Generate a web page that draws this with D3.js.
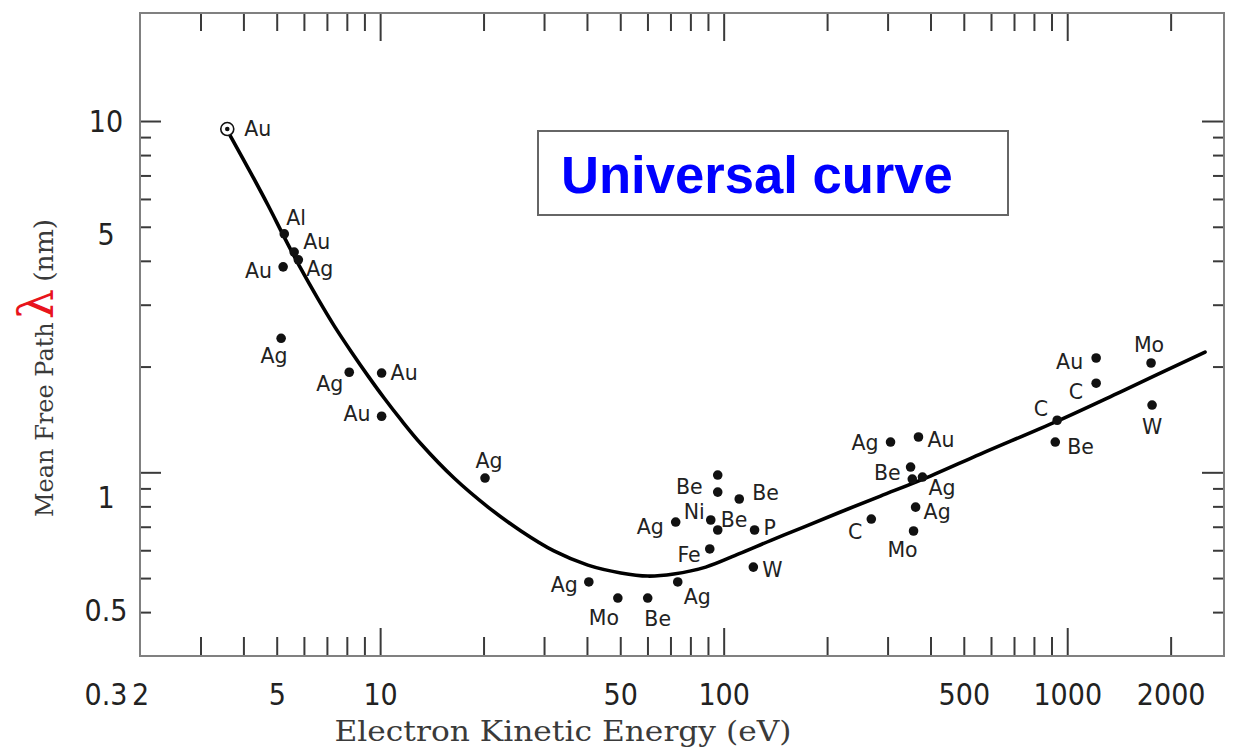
<!DOCTYPE html>
<html><head><meta charset="utf-8">
<script src="https://cdn.jsdelivr.net/npm/d3@7"></script>
<style>body{margin:0;background:#fff}</style>
</head><body><svg id="c" width="1243" height="750"></svg>
<script>
// ---- data ----
const elements = ["Au","Al","Au","Ag","Au","Ag","Ag","Au","Au","Ag","Ag","Mo","Be","Ag","Ag","Ni","","Be","Be","Be","P","Fe","W","C","Ag","Au","Be","","Ag","Ag","Mo","Au","C","C","Be","Mo","W"];
const energyEV = [3.59,5.26,5.62,5.78,5.22,5.15,8.13,10.1,10.1,20.2,40.5,49.2,60.1,73.5,72.5,91.7,96.1,96.1,111,96.1,123,91.1,122,269,306,369,350,354,379,362,357,1214,1214,935,923,1754,1766];
const mfpNM = [9.58,5.04,4.51,4.30,4.12,2.66,2.16,2.15,1.65,1.13,0.598,0.542,0.542,0.598,0.863,0.874,1.151,1.037,0.994,0.822,0.822,0.732,0.655,0.879,1.409,1.453,1.209,1.123,1.137,0.946,0.817,2.357,2.02,1.61,1.409,2.286,1.767];
const curveEnergy = [3.61,4.22,4.73,5.26,5.89,6.60,7.35,8.24,9.23,10.27,11.51,13.16,16.41,20.61,25.70,32.05,40.24,50.19,60.12,71.56,88.66,110.6,137.9,170.9,218.8,286.0,399.7,558.6,935.3,1426,2519];
const curveMfp = [9.41,7.27,5.98,4.94,4.06,3.38,2.87,2.45,2.11,1.845,1.613,1.392,1.130,0.946,0.817,0.723,0.663,0.632,0.620,0.628,0.655,0.710,0.773,0.837,0.918,1.012,1.144,1.309,1.602,1.914,2.445];
const xTickLabels = [2,5,10,50,100,500,1000,2000];
const xMinorTicks = [3,4,5,6,7,8,9,20,30,40,50,60,70,80,90,200,300,400,500,600,700,800,900,2000];
const xMajorTicks = [10,100,1000];
const yTickLabels = [10,5,1,0.5,0.3];
const yMinorTicks = [0.4,0.5,0.6,0.7,0.8,0.9,2,3,4,5,6,7,8,9];
const yMajorTicks = [1,10];
const annotation = "Universal curve";

// ---- label placement (style) ----
const labelPlace = [
[17,0,"start"],[2,-16,"start"],[9,-10,"start"],[8,9,"start"],[-11,4,"end"],[-7,18,"middle"],
[-6,12,"end"],[9,0,"start"],[-11,-2,"end"],[4,-17,"middle"],[-11,3,"end"],[-14,20,"middle"],
[10,21,"middle"],[6,15,"start"],[-12,5,"end"],[-6,-8,"end"],[0,0,"start"],[-15,-5,"end"],
[13,-6,"start"],[3,-10,"start"],[9,-2,"start"],[-9,6,"end"],[9,3,"start"],[-9,13,"end"],
[-12,1,"end"],[9,3,"start"],[-10,6,"end"],[0,0,"start"],[6,11,"start"],[8,5,"start"],
[-11,19,"middle"],[-13,4,"end"],[-13,9,"end"],[-9,-11,"end"],[12,5,"start"],[-2,-18,"middle"],[0,22,"middle"]];

const svg = d3.select("#c");
const L = 140, R = 1224, T = 13, B = 656;
const x = d3.scaleLog().domain([2, 2860]).range([L, R]);
const y = d3.scaleLog().domain([0.38, 19.5]).range([B, T]);       // scale of the printed labels / data
const yTick = d3.scaleLog().domain([0.3, 20.3]).range([B, T]);    // scale on which the tick marks are drawn

const tickFont = "'DejaVu Sans Condensed','DejaVu Sans',sans-serif";
const labelFont = "'DejaVu Sans',Verdana,sans-serif";

function styleTicks(g){ g.select(".domain").remove(); g.selectAll("line").attr("stroke","#3a3a3a").attr("stroke-width",2); }

// ticks
svg.append("g").attr("transform",`translate(0,${B})`).call(d3.axisBottom(x).tickValues(xMinorTicks).tickSize(-19).tickFormat("")).call(styleTicks);
svg.append("g").attr("transform",`translate(0,${B})`).call(d3.axisBottom(x).tickValues(xMajorTicks).tickSize(-28).tickFormat("")).call(styleTicks);
svg.append("g").attr("transform",`translate(0,${T})`).call(d3.axisTop(x).tickValues(xMinorTicks).tickSize(-18).tickFormat("")).call(styleTicks);
svg.append("g").attr("transform",`translate(0,${T})`).call(d3.axisTop(x).tickValues(xMajorTicks).tickSize(-28).tickFormat("")).call(styleTicks);
svg.append("g").attr("transform",`translate(${L},0)`).call(d3.axisLeft(yTick).tickValues(yMinorTicks).tickSize(-11).tickFormat("")).call(styleTicks);
svg.append("g").attr("transform",`translate(${L},0)`).call(d3.axisLeft(yTick).tickValues(yMajorTicks).tickSize(-21).tickFormat("")).call(styleTicks);
svg.append("g").attr("transform",`translate(${R},0)`).call(d3.axisRight(yTick).tickValues(yMinorTicks).tickSize(-11).tickFormat("")).call(styleTicks);
svg.append("g").attr("transform",`translate(${R},0)`).call(d3.axisRight(yTick).tickValues(yMajorTicks).tickSize(-22).tickFormat("")).call(styleTicks);

// frame
svg.append("rect").attr("x",L).attr("y",T).attr("width",R-L).attr("height",B-T)
  .attr("fill","none").attr("stroke","#808080").attr("stroke-width",2);

// tick labels
const gx = svg.append("g").attr("transform",`translate(0,${B})`)
  .call(d3.axisBottom(x).tickValues(xTickLabels).tickSize(0).tickPadding(28).tickFormat(d3.format("d")));
gx.select(".domain").remove();
gx.selectAll("text").attr("font-family",tickFont).attr("font-size",30).attr("fill","#222");

const gy = svg.append("g")
  .call(d3.axisLeft(y).tickValues(yTickLabels).tickSize(0).tickFormat(d => String(d)));
gy.select(".domain").remove();
gy.selectAll("text").attr("x",106).attr("text-anchor","middle").attr("font-family",tickFont).attr("font-size",30).attr("fill","#222");

// curve
const line = d3.line().x(d => x(d[0])).y(d => y(d[1])).curve(d3.curveCatmullRom.alpha(0.5));
svg.append("path").datum(curveEnergy.map((e,i)=>[e,curveMfp[i]]))
  .attr("d",line).attr("fill","none").attr("stroke","#000").attr("stroke-width",3.6).attr("stroke-linecap","round");

// points
const pts = energyEV.map((e,i)=>({e, m:mfpNM[i], el:elements[i], p:labelPlace[i], ring:i===0}));
const gp = svg.append("g");
pts.forEach(d => {
  const cx = x(d.e), cy = y(d.m);
  if (d.ring) {
    gp.append("circle").attr("cx",cx).attr("cy",cy).attr("r",6.5).attr("fill","#fff").attr("stroke","#111").attr("stroke-width",1.6);
    gp.append("circle").attr("cx",cx).attr("cy",cy).attr("r",2.3).attr("fill","#111");
  } else {
    gp.append("circle").attr("cx",cx).attr("cy",cy).attr("r",4.8).attr("fill","#111");
  }
  if (d.el) {
    gp.append("text").attr("x",cx+d.p[0]).attr("y",cy+d.p[1]).attr("text-anchor",d.p[2])
      .attr("dominant-baseline","central").attr("font-family",labelFont).attr("font-size",20.5).attr("fill","#222").text(d.el);
  }
});

// annotation box
svg.append("rect").attr("x",538).attr("y",131).attr("width",470).attr("height",84)
  .attr("fill","#fff").attr("stroke","#666").attr("stroke-width",2);
svg.append("text").attr("x",561).attr("y",193).attr("font-family","'Liberation Sans',Arial,sans-serif")
  .attr("font-weight","bold").attr("font-size",52.6).attr("fill","#0000ff").text(annotation);

// axis titles
svg.append("text").attr("x",563).attr("y",741).attr("text-anchor","middle")
  .attr("font-family","'DejaVu Serif',serif").attr("font-size",27).attr("fill","#3a3a3a")
  .attr("textLength",457).attr("lengthAdjust","spacingAndGlyphs").text("Electron Kinetic Energy (eV)");

const yt = svg.append("text").attr("transform","translate(53,517) rotate(-90)")
  .attr("font-family","'DejaVu Serif',serif").attr("font-size",24).attr("fill","#3a3a3a");
yt.append("tspan").text("Mean Free Path");
yt.append("tspan").attr("dx",3).attr("font-size",48).attr("fill","#e8141c").text("λ");
yt.append("tspan").attr("dx",7).attr("font-size",26.5).text("(nm)");
</script>
</body></html>
